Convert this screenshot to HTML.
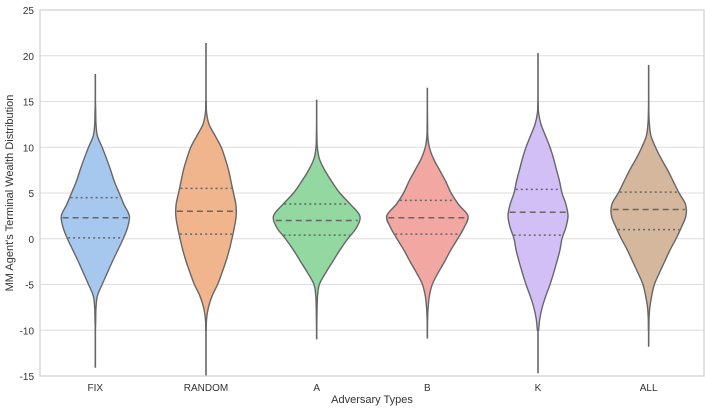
<!DOCTYPE html>
<html><head><meta charset="utf-8">
<style>
html,body{margin:0;padding:0;background:#fff;}
svg{display:block;font-family:"Liberation Sans",Arial,sans-serif;}
</style></head>
<body>
<svg id="chart" width="705" height="408" viewBox="0 0 705 408">
<rect x="0" y="0" width="705" height="408" fill="#fff"/>
<g id="grid"></g>
<g id="violins"></g>
<rect x="40" y="10" width="664" height="366" fill="none" stroke="#cfcfcf" stroke-width="1.2"/>
<g id="axes"></g>
<text x="372" y="403" text-anchor="middle" font-size="11" fill="#333">Adversary Types</text>
<text transform="translate(13,193) rotate(-90)" text-anchor="middle" font-size="11" fill="#333">MM Agent's Terminal Wealth Distribution</text>
</svg>
<script>
const categories = ["FIX","RANDOM","A","B","K","ALL"];
const colors = ["#a6c8ee","#f0b58c","#92d8a0","#f2a7a3","#d2bff6","#d4b79c"];
const yTicks = [-15,-10,-5,0,5,10,15,20,25];
const densityGrid = [-10,-8.75,-7.5,-6.25,-5,-3.75,-2.5,-1.25,0,1.25,2.5,3.75,5,6.25,7.5,8.75,10,11.25,12.5,13.75,15];
const densFIX    = [0,.01,.02,.06,.2,.35,.5,.66,.82,.95,1,.84,.7,.56,.45,.33,.2,.06,.02,.01,0];
const densRANDOM = [.005,.02,.08,.2,.38,.52,.65,.76,.85,.93,.99,.98,.9,.82,.74,.63,.5,.3,.1,.02,.005];
const densA      = [0,.005,.01,.02,.06,.2,.36,.52,.7,.9,.97,.76,.52,.34,.18,.06,.015,.005,0,0,0];
const densB      = [0,.005,.02,.05,.12,.26,.42,.57,.74,.9,.99,.76,.58,.45,.3,.15,.05,.01,.005,0,0];
const densK      = [.02,.06,.14,.26,.4,.52,.63,.73,.8,.93,1,.93,.8,.72,.62,.52,.4,.25,.1,.02,0];
const densALL    = [.005,.01,.03,.08,.15,.28,.42,.56,.72,.86,.98,.97,.8,.65,.5,.33,.18,.06,.02,.005,0];
const densities = [densFIX,densRANDOM,densA,densB,densK,densALL];
const peakWidths = [34,30.5,44.5,41,30,38];
const dataMin = [-14.1,-15,-11.0,-10.9,-14.7,-11.8];
const dataMax = [18.0,21.4,15.2,16.5,20.3,19.0];
const q1s = [0.1,0.5,0.4,0.5,0.4,1.0];
const medians = [2.3,3.0,2.0,2.3,2.9,3.2];
const q3s = [4.5,5.5,3.8,4.2,5.4,5.1];

const L=40,R=704,T=10,B=376,yMin=-15,yMax=25;
const yScale=v=>T+(yMax-v)/(yMax-yMin)*(B-T);
const band=(R-L)/categories.length;
const xScale=i=>L+band*(i+0.5);
const NS="http://www.w3.org/2000/svg";
function mk(tag,attrs,parent){const e=document.createElementNS(NS,tag);for(const k in attrs)e.setAttribute(k,attrs[k]);parent.appendChild(e);return e;}

const grid=document.getElementById('grid'),axes=document.getElementById('axes'),vg=document.getElementById('violins');
yTicks.forEach(t=>{
  const y=yScale(t);
  const l=mk('line',{x1:L,x2:R,y1:y,y2:y,stroke:'#dedede','stroke-width':1},grid);
  
  
  const tx=mk('text',{x:L-6,y:y+4,'text-anchor':'end','font-size':10,fill:'#333'},axes);
  tx.textContent=t;
  
  
});
categories.forEach((c,i)=>{
  const tx=mk('text',{x:xScale(i),y:391,'text-anchor':'middle','font-size':10,fill:'#333'},axes);
  tx.textContent=c;
  
  
});

function halfAt(d,pk,v){
  for(let k=0;k<densityGrid.length-1;k++){
    if(v>=densityGrid[k]&&v<=densityGrid[k+1]){const f=(v-densityGrid[k])/(densityGrid[k+1]-densityGrid[k]);return (d[k]+(d[k+1]-d[k])*f)*pk;}
  }
  return 0;
}
function spline(pts){
  let s=`M${pts[0][0]},${pts[0][1]}`;
  for(let i=0;i<pts.length-1;i++){
    const p0=pts[Math.max(0,i-1)],p1=pts[i],p2=pts[i+1],p3=pts[Math.min(pts.length-1,i+2)];
    const c1=[p1[0]+(p2[0]-p0[0])/6,p1[1]+(p2[1]-p0[1])/6];
    const c2=[p2[0]-(p3[0]-p1[0])/6,p2[1]-(p3[1]-p1[1])/6];
    s+=` C${c1[0]},${c1[1]} ${c2[0]},${c2[1]} ${p2[0]},${p2[1]}`;
  }
  return s;
}
categories.forEach((c,i)=>{
  const cx=xScale(i),d=densities[i],pk=peakWidths[i];
  const g=mk('g',{},vg);
  
  
  const wl=mk('line',{x1:cx,x2:cx,y1:yScale(dataMax[i]),y2:yScale(Math.max(yMin,dataMin[i])),stroke:'#666','stroke-width':1.6},g);
  
  
  let first=0,last=d.length-1;
  while(first<d.length-1&&d[first+1]===0)first++;
  while(last>0&&d[last-1]===0)last--;
  const right=[],left=[];
  for(let k=last;k>=first;k--)right.push([cx+d[k]*pk,yScale(densityGrid[k])]);
  for(let k=first;k<=last;k++)left.push([cx-d[k]*pk,yScale(densityGrid[k])]);
  const path=spline(right)+' L'+spline(left).slice(1)+' Z';
  const body=mk('path',{d:path,fill:colors[i],stroke:'#666','stroke-width':1.4},g);
  
  
  [[q1s[i],'2,3','quartile-line'],[medians[i],'6,4','median-line'],[q3s[i],'2,3','quartile-line']].forEach(([v,da,nm])=>{
    const h=halfAt(d,pk,v)-1,y=yScale(v);
    const ql=mk('line',{x1:cx-h,x2:cx+h,y1:y,y2:y,stroke:'#666','stroke-width':1.5,'stroke-dasharray':da},g);
    
    
  });
});
</script>
</body></html>
